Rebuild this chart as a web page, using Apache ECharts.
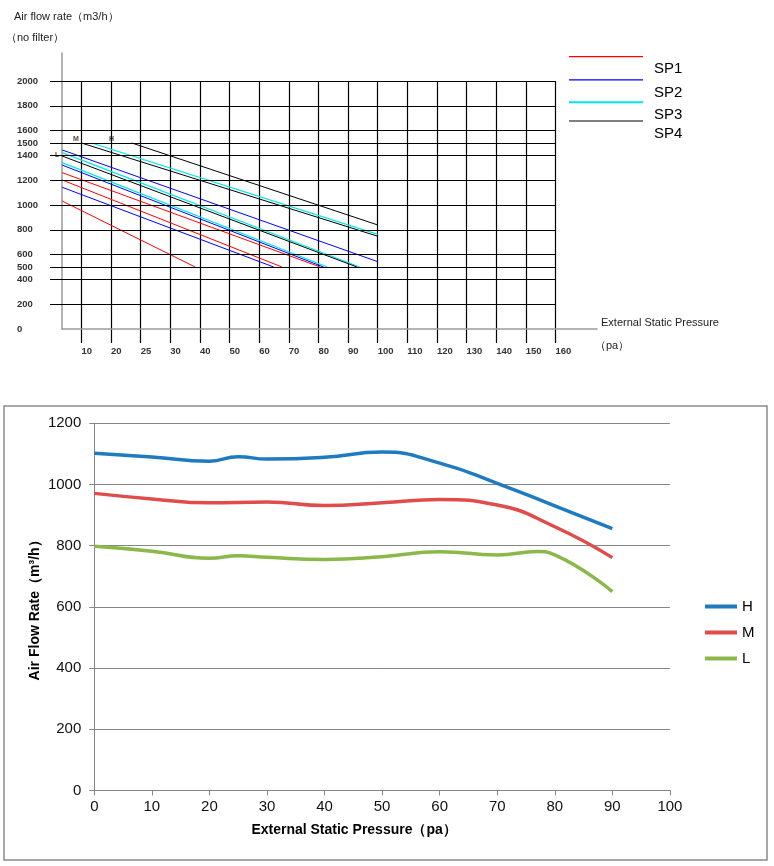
<!DOCTYPE html>
<html>
<head>
<meta charset="utf-8">
<script src="https://cdn.jsdelivr.net/npm/echarts@6/dist/echarts.min.js"></script>
<style>html,body{margin:0;padding:0;background:#fff}#c{width:774px;height:866px}</style>
</head>
<body>
<div id="c"></div>
<script>
// ---------- Top chart (schematic) ----------
// x values are positions along the drawn pressure scale (0 = first tick "10", 1 per gridline)
const pressureTickLabels = ['10','20','25','30','40','50','60','70','80','90','100','110','120','130','140','150','160'];
const flowTickValues = [0,200,400,500,600,800,1000,1200,1400,1500,1600,1800,2000];
const flowGridValues = [200,400,500,600,800,1000,1200,1400,1500,1600,1800,2000];
const sp1Lines = [
  [[-0.65,1261],[8.06,500]],
  [[-0.65,1202],[6.77,500]],
  [[-0.65,1032],[3.84,500]]
];
const sp2Lines = [
  [[-0.65,1444],[10,543]],
  [[-0.65,1322],[8.17,500]],
  [[-0.65,1143],[6.49,500]]
];
const sp3Lines = [
  [[0.35,1500],[10,764]],
  [[-0.65,1422],[9.39,500]],
  [[-0.65,1341],[8.30,500]]
];
const sp4Lines = [
  [[1.70,1500],[10,839]],
  [[0,1500],[10,748]],
  [[-0.65,1395],[9.30,500]]
];
const spNames = ['SP1','SP2','SP3','SP4'];
const spColors = ['#ff0000','#0000ff','#00e8e8','#000000'];

// ---------- Bottom chart ----------
const pressureTicks = [0,10,20,30,40,50,60,70,80,90,100];
const flowH = [[0,1102],[10,1090],[20,1076],[25,1091],[30,1083],[40,1089],[50,1106],[60,1070],[70,1004],[80,930],[90,856]];
const flowM = [[0,971],[10,953],[20,940],[30,943],[40,931],[50,940],[60,951],[70,933],[80,862],[90,761]];
const flowL = [[0,798],[10,782],[20,759],[25,767],[30,762],[40,755],[50,764],[60,780],[70,770],[77,781],[80,770],[90,650]];
const speedNames = ['H','M','L'];
const speedColors = ['#1f7bc0','#e04b4b','#8bb84a'];

const FONT = '"Liberation Sans", Arial, sans-serif';
const chart = echarts.init(document.getElementById('c'), null, {renderer:'canvas'});

const hid = {show:false};
const series = [];
[sp1Lines, sp2Lines, sp3Lines, sp4Lines].forEach((group, gi) => {
  group.forEach(seg => {
    series.push({
      name: spNames[gi], type:'line', xAxisIndex:1, yAxisIndex:1,
      data: seg, symbol:'none', silent:true,
      lineStyle:{color:spColors[gi], width: gi===2 ? 1.3 : 1},
      itemStyle:{color:spColors[gi]}
    });
  });
});
// horizontal gridlines of the schematic
series.push({
  name:'grid', type:'line', xAxisIndex:1, yAxisIndex:1, data:[], silent:true,
  markLine:{
    symbol:['none','none'], silent:true, label:{show:false}, animation:false,
    lineStyle:{color:'#000', width:1.2, type:'solid'},
    emphasis:{disabled:true},
    data: flowGridValues.map(v => ({yAxis:v}))
  }
});
[flowH, flowM, flowL].forEach((d, i) => {
  series.push({
    name: speedNames[i], type:'line', xAxisIndex:3, yAxisIndex:3,
    data: d, symbol:'none', smooth:0.5, silent:true,
    lineStyle:{color:speedColors[i], width:3.5},
    itemStyle:{color:speedColors[i]}
  });
});

const spLegendTops = [56, 79.3, 101.3, 120.4];
const legends = spNames.map((n, i) => ({
  data:[n], orient:'vertical', left:569, top:spLegendTops[i], padding:0,
  icon:'rect', itemWidth:74, itemHeight: i===2 ? 2 : 1.2, selectedMode:false,
  formatter: name => '{t|' + name + '}',
  textStyle:{fontSize:15, color:'#000', fontFamily:FONT,
    rich:{t:{fontSize:15, color:'#000', fontFamily:FONT, padding:[25,0,0,6]}}}
}));
legends.push({
  data: speedNames, orient:'vertical', left:705, top:599, padding:0,
  icon:'rect', itemWidth:32, itemHeight:4, itemGap:11, selectedMode:false,
  textStyle:{fontSize:15, color:'#000', fontFamily:FONT}
});

const titleStyle = {fontSize:11, fontWeight:'normal', color:'#222', fontFamily:FONT};
const option = {
  animation:false,
  textStyle:{fontFamily:FONT},
  title:[
    {text:'Air flow rate（m3/h）', left:14, top:11, padding:0, textStyle:titleStyle},
    {text:'（no filter）', left:6, top:32, padding:0, textStyle:titleStyle},
    {text:'External Static Pressure', left:601, top:317, padding:0, textStyle:titleStyle},
    {text:'（pa）', left:595, top:340, padding:0, textStyle:titleStyle}
  ],
  graphic:[
    {type:'text', left:73, top:136, style:{text:'M', fontSize:7, fontWeight:'bold', fill:'#5a4630', fontFamily:FONT}},
    {type:'text', left:109, top:136, style:{text:'H', fontSize:7, fontWeight:'bold', fill:'#5a4630', fontFamily:FONT}},
    {type:'text', left:55, top:152, style:{text:'L', fontSize:7, fontWeight:'bold', fill:'#5a4630', fontFamily:FONT}}
  ],
  legend: legends,
  grid:[
    {left:62, top:53, width:535, height:276, outerBoundsMode:'none'},
    {left:50, top:81, width:505.5, height:248, outerBoundsMode:'none'},
    {left:81.4, top:81, width:474, height:262, outerBoundsMode:'none'},
    {left:94.3, top:423.3, width:575.6, height:367.2, outerBoundsMode:'none'},
    {left:4, top:406, width:763, height:454, show:true, borderColor:'#8a8a8a', borderWidth:1.5, backgroundColor:'transparent', outerBoundsMode:'none', z:0}
  ],
  xAxis:[
    {gridIndex:0, type:'value', min:0, max:1, axisLine:{show:true, lineStyle:{color:'#9a9a9a', width:1.5}}, axisTick:hid, axisLabel:hid, splitLine:hid},
    {gridIndex:1, type:'value', min:-1.06, max:16, show:false},
    {gridIndex:2, type:'value', min:0, max:16, interval:1,
      axisLine:hid, axisTick:hid,
      axisLabel:{show:true, margin:3, align:'left', fontSize:9.5, fontWeight:'bold', color:'#333',
        formatter:v => pressureTickLabels[Math.round(v)] || ''},
      splitLine:{show:true, lineStyle:{color:'#000', width:1.2}}},
    {gridIndex:3, type:'value', min:0, max:100, interval:10,
      axisLine:{show:true, lineStyle:{color:'#868686', width:1}},
      axisTick:{show:true, length:5, lineStyle:{color:'#868686'}},
      axisLabel:{show:true, fontSize:15, color:'#111', margin:9, formatter:v => pressureTicks.includes(v) ? String(v) : ''},
      splitLine:hid,
      name:'External Static Pressure（pa）', nameLocation:'middle', nameGap:33, nameMoveOverlap:false,
      nameTextStyle:{fontSize:14, fontWeight:'bold', color:'#000', padding:[0,56,0,0]}},
    {gridIndex:4, type:'value', show:false}
  ],
  yAxis:[
    {gridIndex:0, type:'value', min:0, max:1, axisLine:{show:true, lineStyle:{color:'#9a9a9a', width:1.5}}, axisTick:hid, axisLabel:hid, splitLine:hid},
    {gridIndex:1, type:'value', min:0, max:2000, interval:100,
      axisLine:hid, axisTick:hid, splitLine:hid,
      axisLabel:{show:true, margin:33, align:'left', fontSize:9.5, fontWeight:'bold', color:'#333',
        formatter:v => flowTickValues.includes(v) ? String(v) : ''}},
    {gridIndex:2, type:'value', min:0, max:1, show:false},
    {gridIndex:3, type:'value', min:0, max:1200, interval:200,
      axisLine:{show:true, lineStyle:{color:'#868686', width:1}},
      axisTick:{show:true, length:5, lineStyle:{color:'#868686'}},
      axisLabel:{show:true, fontSize:15, color:'#111', margin:13, formatter:v => String(v)},
      splitLine:{show:true, lineStyle:{color:'#868686', width:1}},
      name:'Air Flow Rate（m³/h）', nameLocation:'middle', nameGap:52, nameRotate:90, nameMoveOverlap:false,
      nameTextStyle:{fontSize:14, fontWeight:'bold', color:'#000'}},
    {gridIndex:4, type:'value', show:false}
  ],
  series: series
};
chart.setOption(option);
</script>
</body>
</html>
